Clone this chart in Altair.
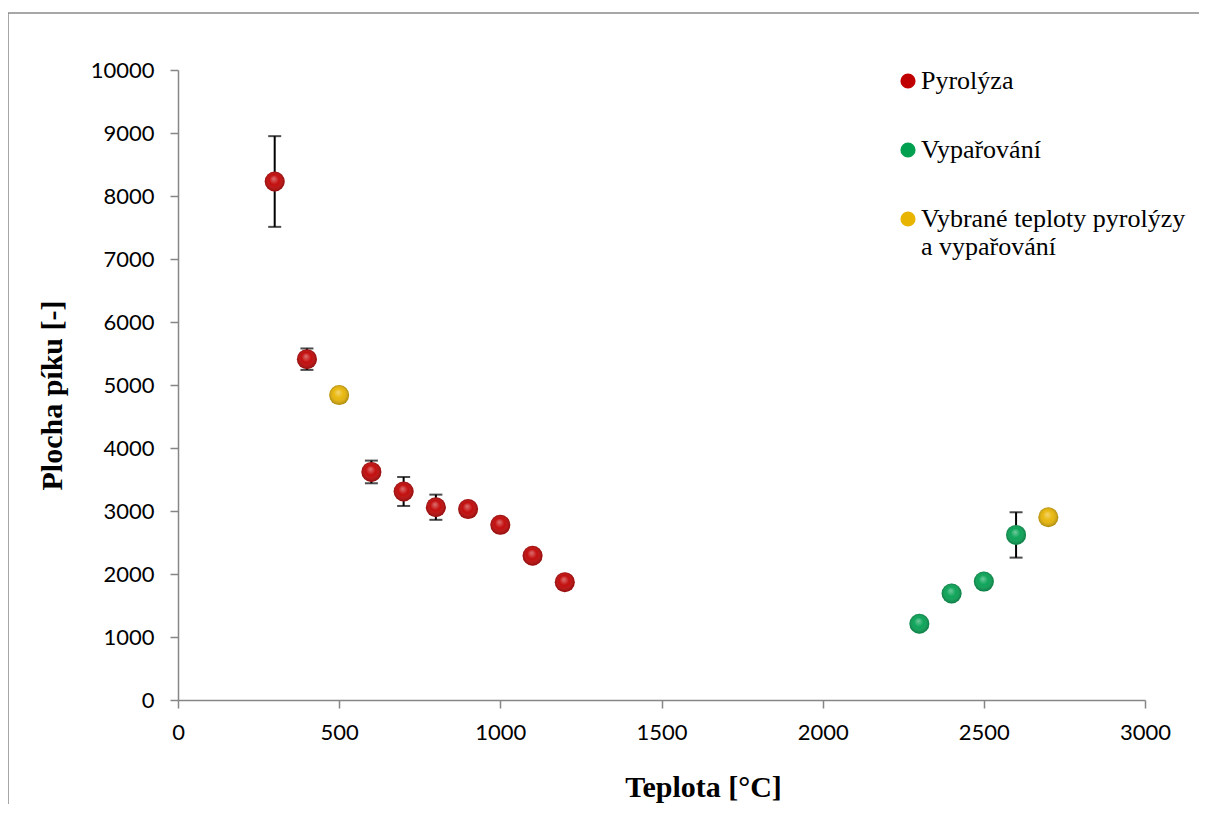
import altair as alt
import pandas as pd

# ---- data ----
pyro_temp = [300, 400, 600, 700, 800, 900, 1000, 1100, 1200]
pyro_area = [8230, 5410, 3620, 3310, 3060, 3030, 2780, 2290, 1870]
pyro_err = [720, 170, 180, 230, 200, 60, 60, 60, 60]

vap_temp = [2300, 2400, 2500, 2600]
vap_area = [1210, 1690, 1880, 2620]
vap_err = [60, 60, 60, 360]

sel_temp = [500, 2700]
sel_area = [4840, 2900]
sel_err = [60, 60]

series_names = ["Pyrolýza", "Vypařování", "Vybrané teploty pyrolýzy|a vypařování"]
series_colors = ["#C00000", "#00A050", "#E8B400"]

x_ticks = [0, 500, 1000, 1500, 2000, 2500, 3000]
y_ticks = [0, 1000, 2000, 3000, 4000, 5000, 6000, 7000, 8000, 9000, 10000]

rows = []
for name, ts, vs, es in [
    (series_names[0], pyro_temp, pyro_area, pyro_err),
    (series_names[1], vap_temp, vap_area, vap_err),
    (series_names[2], sel_temp, sel_area, sel_err),
]:
    for t, v, e in zip(ts, vs, es):
        rows.append({"serie": name, "t": t, "a": v, "lo": v - e, "hi": v + e})
df = pd.DataFrame(rows)

serif = "Liberation Serif"
sans = "Lato"

xs = alt.Scale(domain=[0, 3000], nice=False)
ys = alt.Scale(domain=[0, 10000], nice=False)

x_axis = alt.Axis(
    title="Teplota [°C]", values=x_ticks, grid=False, format="d", labelFlush=False,
    labelFont=sans, labelFontSize=22, labelColor="black", labelPadding=14,
    tickSize=8, tickColor="#868686", domainColor="#868686", domainWidth=1.5, tickWidth=1.5,
    titleFont=serif, titleFontSize=30, titleFontWeight="bold", titleColor="black",
    titleX=525, titleY=87, titleBaseline="middle", titleAlign="center", titleAnchor="start",
)
y_axis = alt.Axis(
    title="Plocha píku [-]", values=y_ticks, grid=False, format="d", labelFlush=False,
    labelFont=sans, labelFontSize=22, labelColor="black", labelPadding=16,
    tickSize=8, tickColor="#868686", domainColor="#868686", domainWidth=1.5, tickWidth=1.5,
    titleFont=serif, titleFontSize=30, titleFontWeight="bold", titleColor="black",
    titleX=-126, titleY=325, titleAngle=-90, titleBaseline="middle", titleAlign="center", titleAnchor="start",
)

base = alt.Chart(df)

err_rule = base.mark_rule(color="black", strokeWidth=2).encode(
    x=alt.X("t:Q", scale=xs, axis=x_axis),
    y=alt.Y("lo:Q", scale=ys, axis=y_axis),
    y2="hi:Q",
)
cap_lo = base.mark_tick(color="black", thickness=2, size=13, orient="horizontal").encode(
    x=alt.X("t:Q", scale=xs), y=alt.Y("lo:Q", scale=ys)
)
cap_hi = base.mark_tick(color="black", thickness=2, size=13, orient="horizontal").encode(
    x=alt.X("t:Q", scale=xs), y=alt.Y("hi:Q", scale=ys)
)

points = base.mark_circle(size=400, opacity=1).encode(
    x=alt.X("t:Q", scale=xs),
    y=alt.Y("a:Q", scale=ys),
    color=alt.Color(
        "serie:N",
        scale=alt.Scale(domain=series_names, range=series_colors),
        legend=alt.Legend(
            title=None, orient="none", legendX=717, legendY=-2,
            labelFont=serif, labelFontSize=26, labelColor="black",
            labelExpr="split(datum.label, '|')",
            symbolType="circle", symbolSize=230, symbolStrokeWidth=0,
            rowPadding=43, labelOffset=0, labelLimit=400,
        ),
    ),
)

shine = base.mark_circle(
    size=400,
    opacity=1,
    fill=alt.RadialGradient(
        gradient="radial",
        stops=[
            alt.GradientStop(offset=0, color="rgba(255,255,255,0.45)"),
            alt.GradientStop(offset=0.45, color="rgba(255,255,255,0.05)"),
            alt.GradientStop(offset=1, color="rgba(0,0,0,0.35)"),
        ],
        x1=0.45, y1=0.35, r1=0, x2=0.5, y2=0.5, r2=0.55,
    ),
).encode(x=alt.X("t:Q", scale=xs), y=alt.Y("a:Q", scale=ys))

frame_data = pd.DataFrame({"k": [0]})
frame_left = alt.Chart(frame_data).mark_rule(color="#8a8a8a", strokeWidth=1.5).encode(
    x=alt.value(-170), y=alt.value(-57), y2=alt.value(760)
)
frame_top = alt.Chart(frame_data).mark_rule(color="#8a8a8a", strokeWidth=1.5).encode(
    x=alt.value(-170), x2=alt.value(1040), y=alt.value(-57)
)

chart = alt.layer(frame_left, frame_top, err_rule, cap_lo, cap_hi, points, shine).properties(
    width=967, height=630,
    autosize=alt.AutoSizeParams(type="none"),
    padding={"left": 170, "top": 62, "right": 54, "bottom": 104},
    background="white",
).configure_view(stroke=None).configure_legend(labelFont=serif)

chart.save("out.html", embed_options={"renderer": "svg", "actions": False})
